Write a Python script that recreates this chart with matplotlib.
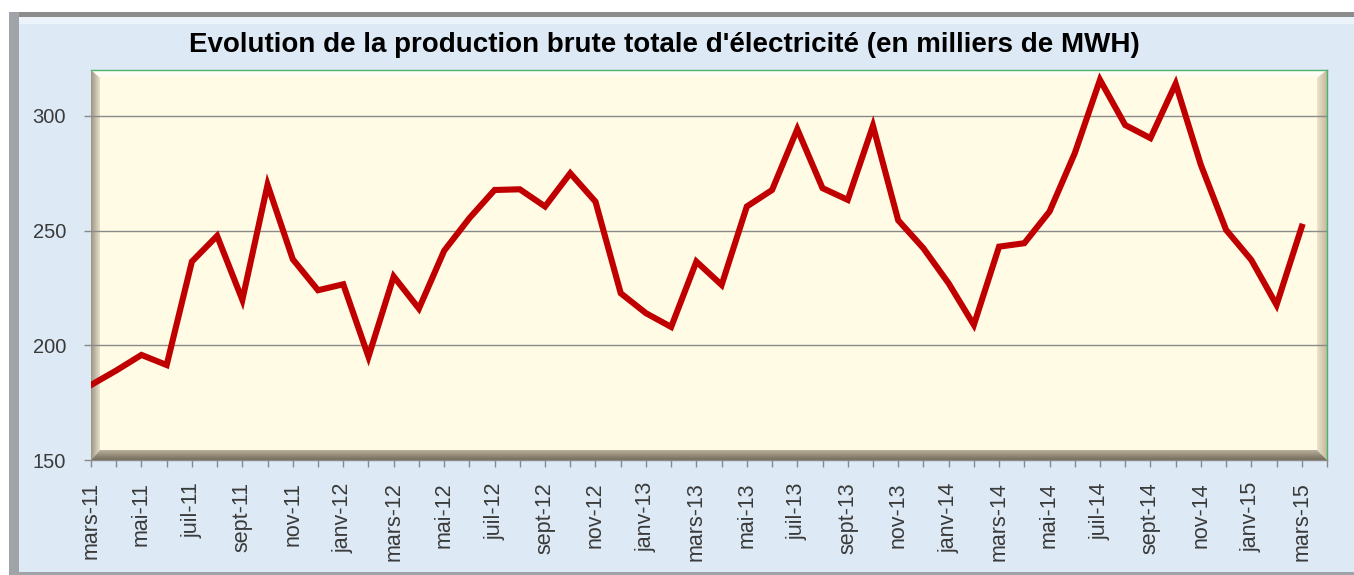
import numpy as np
import matplotlib
matplotlib.use("Agg")
import matplotlib.pyplot as plt
from matplotlib.patches import Polygon, Rectangle
from matplotlib.colors import LinearSegmentedColormap

# monthly gross electricity production, thousands of MWh (mars-11 .. mars-15)
MONTHS = ["janv", "févr", "mars", "avr", "mai", "juin",
          "juil", "août", "sept", "oct", "nov", "déc"]
START_MONTH = 2   # index of "mars"
START_YEAR = 11
production = [182.7, 189, 195.8, 191.4, 236.5, 247.7, 219.8, 270, 237.5, 224,
              226.6, 195, 230, 216, 241.2, 255.4, 267.7, 268, 260.5, 275,
              262.6, 222.7, 214, 208, 236.5, 226.3, 260.5, 267.7, 294.2, 268.5,
              263.4, 295.7, 254.5, 242.3, 227, 208.9, 243, 244.5, 258.3, 283.7,
              315.7, 296, 290.3, 314, 278.6, 250.3, 237.2, 217.6, 251.7]
y_ticks = [150, 200, 250, 300]

TITLE = "Evolution de la production brute totale d'électricité (en milliers de MWH)"
LINE_COLOR = "#c00000"
GRID_COLOR = "#8a8a8a"
TEXT_COLOR = "#3a3a3a"
FRAME_BG = "#dde9f5"
PLOT_BG = "#fffbe5"

plt.rcParams["font.family"] = ["Liberation Sans", "DejaVu Sans"]

W, H = 1354, 575
fig = plt.figure(figsize=(W / 100, H / 100), dpi=100)
fig.patch.set_facecolor("white")


def fx(px):
    return px / W


def fy(py):
    return 1 - py / H


def frame_rect(x0, y0, x1, y1, color, z):
    # pixel box (top-left origin) -> figure rectangle
    fig.patches.append(Rectangle((fx(x0), fy(y1)), fx(x1) - fx(x0), fy(y0) - fy(y1),
                                 transform=fig.transFigure, facecolor=color,
                                 edgecolor="none", zorder=z))


# outer frame
frame_rect(9, 12, W, H, FRAME_BG, -3)
frame_rect(19, 17, W, 24, "#edf3fa", -2)
frame_rect(9, 12, W, 17, "#8c8c8c", -1)
frame_rect(9, 12, 19, H, "#a0a4a9", -1)
frame_rect(9, 572, W, H, "#a0a4a9", -1)

left, right, top, bottom = 91, 1327, 70, 460
ax = fig.add_axes([fx(left), fy(bottom), fx(right - left), fy(top) - fy(bottom)])
ax.set_facecolor(PLOT_BG)

# bevelled plot area
wl, wr = 9 / (right - left), 10 / (right - left)
ht, hb = 8 / (bottom - top), 10 / (bottom - top)


def bevel(verts, colors, extent, horizontal):
    poly = Polygon(verts, closed=True, transform=ax.transAxes,
                   facecolor="none", edgecolor="none")
    ax.add_patch(poly)
    grad = np.linspace(0, 1, 64)
    grad = grad.reshape(1, -1) if horizontal else grad.reshape(-1, 1)
    cmap = LinearSegmentedColormap.from_list("bev", colors)
    im = ax.imshow(grad, extent=extent, transform=ax.transAxes, cmap=cmap,
                   aspect="auto", origin="lower", zorder=1, interpolation="bilinear")
    im.set_clip_path(poly)


bevel([(0, 1), (1, 1), (1 - wr, 1 - ht), (wl, 1 - ht)],
      ["#fffbe6", "#ffffff"], [0, 1, 1 - ht, 1], False)
bevel([(0, 0), (0, 1), (wl, 1 - ht), (wl, hb)],
      ["#9b9483", "#e9e1cd"], [0, wl, 0, 1], True)
bevel([(1, 0), (1, 1), (1 - wr, 1 - ht), (1 - wr, hb)],
      ["#ece3cc", "#c4b99e"], [1 - wr, 1, 0, 1], True)
bevel([(0, 0), (1, 0), (1 - wr, hb), (wl, hb)],
      ["#736b5b", "#b9b09b"], [0, 1, 0, hb], False)

x = np.arange(len(production))
for yv in y_ticks[1:]:
    ax.axhline(yv, color=GRID_COLOR, lw=1.0, zorder=2)
ax.plot(x, production, color=LINE_COLOR, lw=4.4, solid_joinstyle="miter", zorder=3)

ax.set_xlim(0, len(production))
ax.set_ylim(150, 320)

labels = []
for i in range(len(production)):
    m = (START_MONTH + i) % 12
    yr = START_YEAR + (START_MONTH + i) // 12
    labels.append(f"{MONTHS[m]}-{yr}")
ax.set_xticks(x[::2])
ax.set_xticklabels(labels[::2], rotation=90)
ax.set_xticks(np.arange(len(production) + 1), minor=True)
ax.set_yticks(y_ticks)

ax.tick_params(axis="x", which="both", direction="out", length=5, width=1,
               color=GRID_COLOR, labelsize=15.5, labelcolor=TEXT_COLOR, pad=11)
ax.tick_params(axis="y", direction="out", length=5, width=1,
               color=GRID_COLOR, labelsize=14.5, labelcolor=TEXT_COLOR, pad=13)

ax.spines["left"].set_visible(False)
ax.spines["bottom"].set_color(GRID_COLOR)
ax.spines["top"].set_color("#4cb36a")
ax.spines["right"].set_color("#4cb36a")
for s in ["top", "right", "bottom"]:
    ax.spines[s].set_linewidth(1.0)
    ax.spines[s].set_zorder(4)

fig.text(fx(664), fy(45), TITLE, ha="center", va="center",
         fontsize=20, fontweight="bold", color="black")

fig.savefig("out.png", dpi=100, facecolor=fig.get_facecolor())
